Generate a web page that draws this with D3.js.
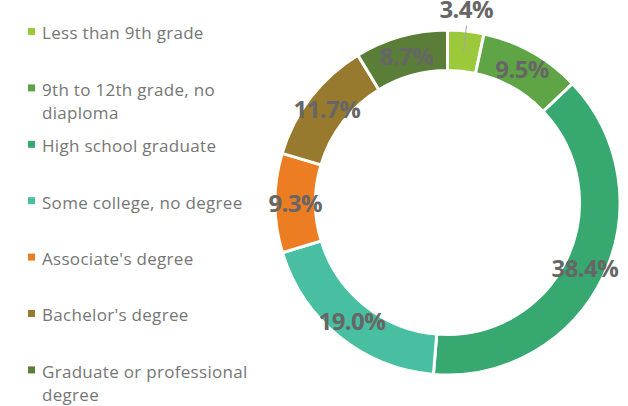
<!DOCTYPE html>
<html>
<head>
<meta charset="utf-8">
<script src="https://cdn.jsdelivr.net/npm/d3@7"></script>
<style>
  body { margin: 0; background: #fff; }
  svg { display: block; }
</style>
</head>
<body>
<div class="donut"></div>
<script>
// education levels and their share (%)
var categories = [
  "Less than 9th grade",
  "9th to 12th grade, no diaploma",
  "High school graduate",
  "Some college, no degree",
  "Associate's degree",
  "Bachelor's degree",
  "Graduate or professional degree"
];
var shares = [3.4, 9.5, 38.4, 19.0, 9.3, 11.7, 8.7];
var colors = ["#9bc93b", "#5fa545", "#37a870", "#48bfa0", "#ed7d23", "#977a2e", "#5a7e38"];
// legend lines (wrapped the way the reference wraps them)
var legendLines = [
  ["Less than 9th grade"],
  ["9th to 12th grade, no", "diaploma"],
  ["High school graduate"],
  ["Some college, no degree"],
  ["Associate's degree"],
  ["Bachelor's degree"],
  ["Graduate or professional", "degree"]
];

var svgWidth = 628, svgHeight = 406;

var svg = d3.select(".donut")
  .append("svg")
  .attr("width", svgWidth)
  .attr("height", svgHeight);

var data = categories.map(function(c, i) {
  return { name: c, value: shares[i], color: colors[i] };
});

var cx = 447.5, cy = 202.5;
var outerR = 172.5, innerR = 132;

var pie = d3.pie()
  .sort(null)
  .value(function(d) { return d.value; });

var arc = d3.arc()
  .innerRadius(innerR)
  .outerRadius(outerR);

var midArc = d3.arc()
  .innerRadius((innerR + outerR) / 2)
  .outerRadius((innerR + outerR) / 2);

var chart = svg.append("g")
  .attr("transform", "translate(" + cx + "," + cy + ")");

var arcs = pie(data);

chart.selectAll("path")
  .data(arcs)
  .enter().append("path")
  .attr("d", arc)
  .attr("fill", function(d) { return d.data.color; })
  .attr("stroke", "#fff")
  .attr("stroke-width", 3);

// small slices get their label outside with a leader line
function isOutside(d) { return d.data.value < 5; }

chart.selectAll("line.leader")
  .data(arcs.filter(isOutside))
  .enter().append("line")
  .attr("class", "leader")
  .attr("x1", function(d) { return midArc.centroid(d)[0]; })
  .attr("y1", function(d) { return midArc.centroid(d)[1]; })
  .attr("x2", function(d) { var a = (d.startAngle + d.endAngle) / 2; return Math.sin(a) * 178; })
  .attr("y2", function(d) { var a = (d.startAngle + d.endAngle) / 2; return -Math.cos(a) * 178; })
  .attr("stroke", "#a6a6a6")
  .attr("stroke-width", 1);

chart.selectAll("text.pct")
  .data(arcs)
  .enter().append("text")
  .attr("class", "pct")
  .attr("transform", function(d) {
    if (isOutside(d)) {
      var a = (d.startAngle + d.endAngle) / 2;
      return "translate(" + (Math.sin(a) * 194 - 2) + "," + (-Math.cos(a) * 194) + ")";
    }
    return "translate(" + midArc.centroid(d) + ")";
  })
  .attr("text-anchor", "middle")
  .attr("dy", "0.36em")
  .style("font-family", "'Open Sans', sans-serif")
  .style("font-weight", "bold")
  .style("font-size", "24px")
  .style("letter-spacing", "-0.6px")
  .style("fill", "#666666")
  .text(function(d) { return d.data.value.toFixed(1) + "%"; });

// legend
var legend = svg.append("g").attr("class", "legend");
var entry = legend.selectAll("g")
  .data(data)
  .enter().append("g")
  .attr("transform", function(d, i) { return "translate(28," + (31.5 + i * 56.4) + ")"; });

entry.append("rect")
  .attr("x", 0)
  .attr("y", -3.5)
  .attr("width", 7)
  .attr("height", 7)
  .attr("fill", function(d) { return d.color; });

entry.append("text")
  .attr("x", 14)
  .attr("y", 7.8)
  .style("font-family", "'Open Sans', sans-serif")
  .style("font-size", "17px")
  .style("letter-spacing", "0.3px")
  .style("fill", "#767676")
  .selectAll("tspan")
  .data(function(d, i) { return legendLines[i]; })
  .enter().append("tspan")
  .attr("x", 14)
  .attr("dy", function(d, j) { return j === 0 ? 0 : 23; })
  .text(function(d) { return d; });
</script>
</body>
</html>
